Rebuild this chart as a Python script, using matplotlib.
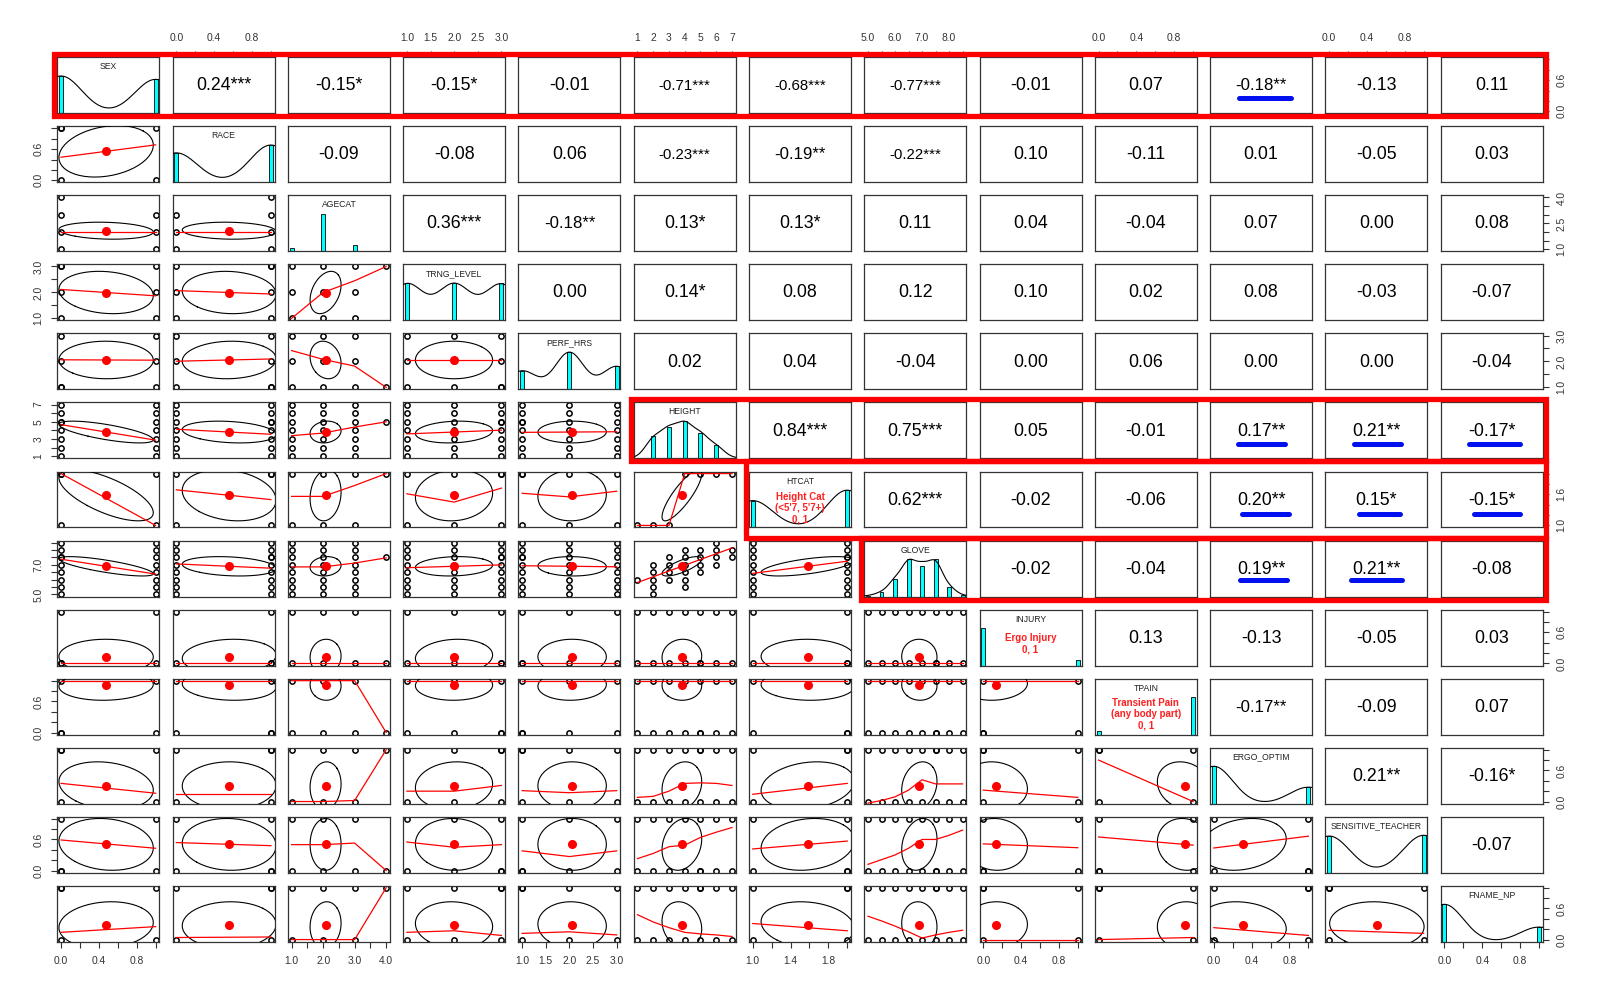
import numpy as np
import matplotlib.pyplot as plt
from matplotlib.patches import Rectangle

plt.rcParams['font.family'] = ['Liberation Sans', 'DejaVu Sans']

VARS = ["SEX", "RACE", "AGECAT", "TRNG_LEVEL", "PERF_HRS", "HEIGHT", "HTCAT",
        "GLOVE", "INJURY", "TPAIN", "ERGO_OPTIM", "SENSITIVE_TEACHER", "FNAME_NP"]

LEVELS = [[0, 1], [0, 1], [1, 2, 3, 4], [1, 2, 3], [1, 2, 3],
          [1, 2, 3, 4, 5, 6, 7], [1, 2],
          [5.0, 5.5, 6.0, 6.5, 7.0, 7.5, 8.0, 8.5],
          [0, 1], [0, 1], [0, 1], [0, 1], [0, 1]]

COUNTS = [[100, 91], [79, 100], [10, 100, 18, 1], [100, 99, 99], [50, 100, 62],
          [2, 60, 85, 100, 69, 36, 2], [72, 100],
          [2, 11, 47, 100, 83, 100, 26, 3],
          [100, 15], [10, 100], [100, 44], [98, 100], [100, 39]]

# density bandwidth per variable (None = no density line drawn)
BANDWIDTH = [0.22, 0.22, None, 0.35, 0.30, 0.52, 0.21, 0.26, None, None, 0.20, 0.22, 0.20]

UPPER = [
    ["0.24***", "-0.15*", "-0.15*", "-0.01", "-0.71***", "-0.68***", "-0.77***", "-0.01", "0.07", "-0.18**", "-0.13", "0.11"],
    ["-0.09", "-0.08", "0.06", "-0.23***", "-0.19**", "-0.22***", "0.10", "-0.11", "0.01", "-0.05", "0.03"],
    ["0.36***", "-0.18**", "0.13*", "0.13*", "0.11", "0.04", "-0.04", "0.07", "0.00", "0.08"],
    ["0.00", "0.14*", "0.08", "0.12", "0.10", "0.02", "0.08", "-0.03", "-0.07"],
    ["0.02", "0.04", "-0.04", "0.00", "0.06", "0.00", "0.00", "-0.04"],
    ["0.84***", "0.75***", "0.05", "-0.01", "0.17**", "0.21**", "-0.17*"],
    ["0.62***", "-0.02", "-0.06", "0.20**", "0.15*", "-0.15*"],
    ["-0.02", "-0.04", "0.19**", "0.21**", "-0.08"],
    ["0.13", "-0.13", "-0.05", "0.03"],
    ["-0.17**", "-0.09", "0.07"],
    ["0.21**", "-0.16*"],
    ["-0.07"],
]

# the one respondent in AGECAT = 4
SINGLE_CASE = [0, 1, 4, 3, 1, 5, 2, 7.5, 0, 0, 1, 0, 1]
GLOVE_BY_HEIGHT = [[6.0], [5.0, 5.5, 6.0, 6.5, 7.0], [6.0, 6.5, 7.0, 7.5],
                   [5.5, 6.0, 6.5, 7.0, 7.5, 8.0], [6.5, 7.0, 7.5, 8.0],
                   [7.0, 7.5, 8.0, 8.5], [7.5, 8.0]]
HTCAT_BY_HEIGHT = [1, 1, 1, 2, 2, 2, 2]

SMOOTH = {
    (2, 3): [1.0, 2.0, 2.45, 3.0],
    (2, 4): [2.42, 2.08, 1.82, 1.0],
    (2, 5): [3.4, 3.7, 4.4, 5.0],
    (2, 6): [1.56, 1.56, 1.77, 2.0],
    (2, 7): [6.86, 6.86, 7.12, 7.47],
    (2, 8): [0, 0, 0, 0],
    (2, 9): [1, 1, 1, 0],
    (2, 10): [0, 0, 0.02, 1],
    (2, 11): [0.5, 0.5, 0.53, 0],
    (2, 12): [0, 0, 0, 1],
    (5, 6): [1, 1, 1, 2, 2, 2, 2],
    (0, 6): [2.0, 1.0],
    (3, 6): [1.61, 1.45, 1.72],
    (4, 6): [1.62, 1.55, 1.66],
    (0, 10): [0.35, 0.16],
    (1, 10): [0.14, 0.14],
    (3, 10): [0.20, 0.20, 0.31],
    (4, 10): [0.21, 0.17, 0.21],
    (5, 10): [0.08, 0.10, 0.20, 0.35, 0.36, 0.35, 0.31],
    (6, 10): [0.14, 0.35],
    (7, 10): [-0.03, 0.02, 0.09, 0.22, 0.42, 0.34, 0.34, 0.34],
    (8, 10): [0.22, 0.08],
    (9, 10): [0.80, 0.0],
    (0, 11): [0.59, 0.43],
    (1, 11): [0.54, 0.48],
    (3, 11): [0.55, 0.45, 0.50],
    (4, 11): [0.38, 0.27, 0.38],
    (5, 11): [0.23, 0.33, 0.46, 0.49, 0.64, 0.74, 0.83],
    (7, 11): [0.12, 0.21, 0.30, 0.43, 0.60, 0.60, 0.68, 0.78],
    (0, 12): [0.14, 0.25],
    (1, 12): [0.04, 0.05],
    (3, 12): [0.14, 0.17, 0.08],
    (4, 12): [0.12, 0.15, 0.09],
    (5, 12): [0.48, 0.34, 0.23, 0.14, 0.11, 0.09, 0.06],
    (6, 12): [0.31, 0.17],
    (7, 12): [0.45, 0.36, 0.26, 0.15, 0.03, 0.09, 0.14, 0.18],
    (8, 12): [0.0, 0.0],
    (9, 12): [0.0, 0.04],
    (10, 12): [0.23, 0.08],
    (11, 12): [0.18, 0.12],
}

BIN_T = [0, 0.2, 0.4, 0.6, 0.8, 1.0]
BIN_X = ["0.0", "", "0.4", "", "0.8", ""]
BIN_Y = ["0.0", "", "", "0.6", "", ""]
H3_T = [1, 1.5, 2, 2.5, 3]
H3_X = ["1.0", "1.5", "2.0", "2.5", "3.0"]
H3_Y = ["1.0", "", "2.0", "", "3.0"]
TICKS = [BIN_T, BIN_T, [1, 1.5, 2, 2.5, 3, 3.5, 4], H3_T, H3_T, [1, 2, 3, 4, 5, 6, 7],
         [1, 1.2, 1.4, 1.6, 1.8, 2.0], [5, 5.5, 6, 6.5, 7, 7.5, 8, 8.5],
         BIN_T, BIN_T, BIN_T, BIN_T, BIN_T]
XLABELS = [BIN_X, BIN_X, ["1.0", "", "2.0", "", "3.0", "", "4.0"], H3_X, H3_X,
           ["1", "2", "3", "4", "5", "6", "7"], ["1.0", "", "1.4", "", "1.8", ""],
           ["5.0", "", "6.0", "", "7.0", "", "8.0", ""],
           BIN_X, BIN_X, BIN_X, BIN_X, BIN_X]
YLABELS = [BIN_Y, BIN_Y, ["1.0", "", "", "2.5", "", "", "4.0"], H3_Y, H3_Y,
           ["1", "", "3", "", "5", "", "7"], ["1.0", "", "", "1.6", "", ""],
           ["5.0", "", "", "", "7.0", "", "", ""],
           BIN_Y, BIN_Y, BIN_Y, BIN_Y, BIN_Y]

DIAG_NOTES = {6: ("Height Cat\n(<5'7, 5'7+)\n0, 1", 0.345),
              8: ("Ergo Injury\n0, 1", 0.385),
              9: ("Transient Pain\n(any body part)\n0, 1", 0.36)}

# hand drawn marks: (row, col, x0, x1, y) in panel fractions
UNDERLINES = [(0, 10, 0.28, 0.79, 0.28),
              (5, 10, 0.27, 0.73, 0.26), (5, 11, 0.28, 0.74, 0.26), (5, 12, 0.28, 0.78, 0.26),
              (6, 10, 0.31, 0.77, 0.24), (6, 11, 0.33, 0.73, 0.24), (6, 12, 0.33, 0.78, 0.24),
              (7, 10, 0.295, 0.755, 0.30), (7, 11, 0.25, 0.75, 0.30)]
BOXES = [(0, 0), (5, 5), (7, 7)]  # (row, first col), to last col
MID_BOX = (6, 6)                   # fills the gap between the row 5 and row 7 boxes

# Arial widths (em) used to shrink long coefficient strings like R's strwidth
CHAR_W = {'-': 0.584, '.': 0.278, '*': 0.389}


def str_w(s):
    return sum(CHAR_W.get(ch, 0.556) for ch in s)


N = len(VARS)
lev = [np.array(l, dtype=float) for l in LEVELS]
cnt = [np.array(c, dtype=float) for c in COUNTS]
mean = [np.sum(l * c) / c.sum() for l, c in zip(lev, cnt)]
sd = [np.sqrt(np.sum(c * (l - m) ** 2) / c.sum()) for l, c, m in zip(lev, cnt, mean)]
share = [c.max() / c.sum() for c in cnt]
mode = [l[np.argmax(c)] for l, c in zip(lev, cnt)]
lims = [(l.min() - 0.04 * (l.max() - l.min()), l.max() + 0.04 * (l.max() - l.min())) for l in lev]

R = np.eye(N)
for i, row in enumerate(UPPER):
    for k, s in enumerate(row):
        j = i + 1 + k
        R[i, j] = R[j, i] = float(s.rstrip('*'))


def points(j, i):
    # x var j, y var i
    if {i, j} == {5, 6}:
        hx = [(h, c) for h, c in zip(LEVELS[5], HTCAT_BY_HEIGHT)]
        return [(a, b) if j == 5 else (b, a) for a, b in hx]
    if {i, j} == {5, 7}:
        hg = [(h, g) for h, gl in zip(LEVELS[5], GLOVE_BY_HEIGHT) for g in gl]
        return [(a, b) if j == 5 else (b, a) for a, b in hg]
    xs = [v for v in LEVELS[j] if not (j == 2 and v == 4)]
    ys = [v for v in LEVELS[i] if not (i == 2 and v == 4)]
    pts = [(a, b) for a in xs for b in ys]
    pts.append((SINGLE_CASE[j], SINGLE_CASE[i]))
    return pts


fig, axes = plt.subplots(N, N, figsize=(16, 9.99), dpi=100)
fig.subplots_adjust(left=0.0358, right=0.9642, top=0.9426, bottom=0.0574,
                    wspace=0.129, hspace=0.233)

for i in range(N):
    for j in range(N):
        ax = axes[i, j]
        ax.set_xlim(lims[j])
        ax.set_ylim(lims[i])
        for sp in ax.spines.values():
            sp.set_color('#333333')
            sp.set_linewidth(0.9)
        ax.set_xticks([])
        ax.set_yticks([])

        if i == j:
            lo, hi = lims[i]
            rng = lev[i].max() - lev[i].min()
            w = 0.042 * rng
            hts = cnt[i] / cnt[i].max()
            ax.bar(lev[i], hts / 1.5 * (hi - lo), width=w, bottom=lo,
                   color='#00FFFF', edgecolor='black', linewidth=0.6, zorder=2)
            if BANDWIDTH[i] is not None:
                bw = BANDWIDTH[i]
                gx = np.linspace(lims[i][0], lims[i][1], 300)
                dens = np.zeros_like(gx)
                for l, c in zip(lev[i], cnt[i]):
                    dens += c * np.exp(-0.5 * ((gx - l) / bw) ** 2)
                full = np.linspace(lev[i].min() - 3 * bw, lev[i].max() + 3 * bw, 600)
                dfull = np.zeros_like(full)
                for l, c in zip(lev[i], cnt[i]):
                    dfull += c * np.exp(-0.5 * ((full - l) / bw) ** 2)
                dens = dens / dfull.max()
                ax.plot(gx, lo + dens / 1.5 * (hi - lo), color='black', lw=0.8, zorder=3)
            ax.text(0.5, 0.83, VARS[i], transform=ax.transAxes, ha='center', va='center',
                    fontsize=6.2, color='#222222')
            if i in DIAG_NOTES:
                txt, yy = DIAG_NOTES[i]
                ax.text(0.5, yy, txt, transform=ax.transAxes, ha='center', va='center',
                        fontsize=7, fontweight='bold', color='#FF2020', linespacing=1.15,
                        zorder=4)
        elif i < j:
            s = UPPER[i][j - i - 1]
            fs = 12.8 * min(1.0, str_w("0.12***") / str_w(s))
            ax.text(0.5, 0.49, s, transform=ax.transAxes,
                    ha='center', va='center', fontsize=fs, color='black')
        else:
            pts = np.array(points(j, i), dtype=float)
            ax.plot(pts[:, 0], pts[:, 1], 'o', ms=3.8, mfc='none', mec='black', mew=1.1,
                    zorder=2)
            r = R[i, j]
            a = np.linspace(0, 2 * np.pi, 52)
            th = (1.0 if r >= 0 else -1.0) / np.sqrt(2)
            ex = (np.cos(a) * np.sqrt(1 + r) - np.sin(a) * np.sqrt(1 - r)) * th
            ey = (np.cos(a) * np.sqrt(1 + r) + np.sin(a) * np.sqrt(1 - r)) * th
            ax.plot(mean[j] + ex * sd[j], mean[i] + ey * sd[i], color='black', lw=0.8, zorder=3)
            if (j, i) in SMOOTH:
                sx, sy = LEVELS[j], SMOOTH[(j, i)]
            elif share[i] > 0.75:
                sx, sy = [lev[j].min(), lev[j].max()], [mode[i], mode[i]]
            else:
                sx = np.array([lev[j].min(), lev[j].max()])
                sy = mean[i] + r * sd[i] / sd[j] * (sx - mean[j])
            ax.plot(sx, sy, color='red', lw=0.9, zorder=4)
            ax.plot(mean[j], mean[i], 'o', ms=5.5, color='red', zorder=5)

        # outer axes, alternating sides
        if i == 0 and j % 2 == 1:
            ax.xaxis.tick_top()
            ax.set_xticks(TICKS[j])
            ax.set_xticklabels(XLABELS[j])
        if i == N - 1 and j % 2 == 0:
            ax.set_xticks(TICKS[j])
            ax.set_xticklabels(XLABELS[j])
        if j == 0 and i % 2 == 1:
            ax.set_yticks(TICKS[i])
            ax.set_yticklabels(YLABELS[i], rotation=90, va='center')
        if j == N - 1 and i % 2 == 0:
            ax.yaxis.tick_right()
            ax.set_yticks(TICKS[i])
            ax.set_yticklabels(YLABELS[i], rotation=90, va='center')
        ax.tick_params(length=4, width=0.8, pad=6, labelsize=7.4, colors='#333333')

# blue underlines under flagged coefficients
for i, j, x0, x1, y in UNDERLINES:
    axes[i, j].plot([x0, x1], [y, y], transform=axes[i, j].transAxes, color='#0010F0',
                    lw=3.6, solid_capstyle='round', zorder=6, clip_on=False)

# red boxes around highlighted rows
px, py = 3 / 1600, 3 / 999


def red_box(x0, y0, x1, y1):
    fig.add_artist(Rectangle((x0, y0), x1 - x0, y1 - y0, transform=fig.transFigure,
                             fill=False, edgecolor='#FF0000', linewidth=3.8, zorder=10))


for i, c0 in BOXES:
    p0 = axes[i, c0].get_position()
    p1 = axes[i, N - 1].get_position()
    red_box(p0.x0 - px, p0.y0 - py, p1.x1 + px, p0.y1 + py)

i, c0 = MID_BOX
p0 = axes[i, c0].get_position()
p1 = axes[i, N - 1].get_position()
red_box(p0.x0 - px, axes[i + 1, i + 1].get_position().y1 + py,
        p1.x1 + px, axes[i - 1, i - 1].get_position().y0 - py)

plt.savefig("out.png", dpi=100)
